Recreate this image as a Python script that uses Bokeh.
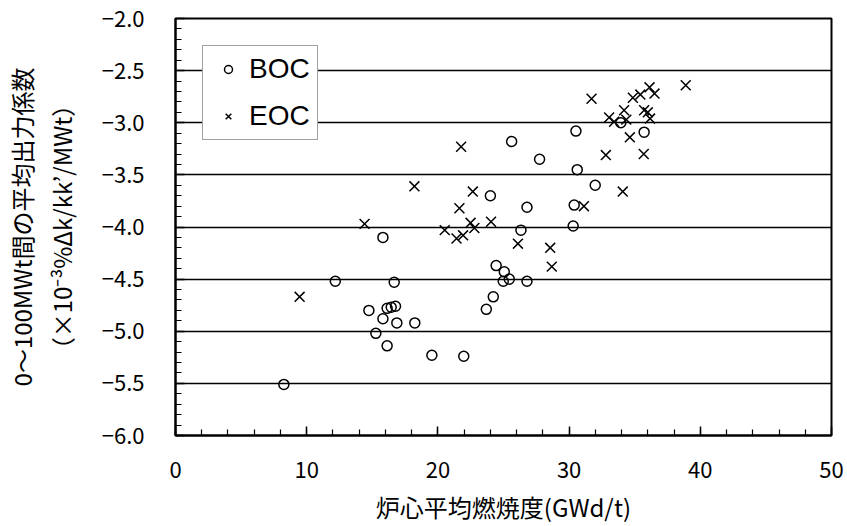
from bokeh.plotting import figure
from bokeh.models import Range1d, Legend, LegendItem, SingleIntervalTicker
from bokeh.embed import file_html
from bokeh.resources import INLINE

# ---- data ----
boc_x = [8.26, 12.18, 14.74, 15.27, 15.81, 15.81, 16.13, 16.13, 16.44, 16.77,
         16.67, 16.87, 18.24, 19.54, 21.97, 23.69, 24.22, 24.44, 25.06, 24.98,
         25.44, 26.79, 26.33, 26.79, 24.00, 25.62, 27.75, 30.31, 30.39, 30.52,
         30.62, 31.99, 33.94, 35.72]
boc_y = [-5.51, -4.52, -4.80, -5.02, -4.10, -4.88, -5.14, -4.78, -4.77, -4.76,
         -4.53, -4.92, -4.92, -5.23, -5.24, -4.79, -4.67, -4.37, -4.43, -4.52,
         -4.50, -4.52, -4.03, -3.81, -3.70, -3.18, -3.35, -3.99, -3.79, -3.08,
         -3.45, -3.60, -3.00, -3.09]

eoc_x = [9.46, 14.41, 18.21, 21.77, 21.64, 22.66, 20.52, 21.42, 21.92, 22.49,
         22.78, 24.05, 26.10, 28.56, 28.68, 31.13, 31.71, 32.80, 33.05, 33.43,
         34.09, 34.19, 34.36, 34.63, 34.86, 35.43, 35.69, 35.72, 36.00, 36.17,
         36.13, 36.51, 38.89]
eoc_y = [-4.67, -3.97, -3.61, -3.23, -3.82, -3.66, -4.03, -4.11, -4.08, -3.96,
         -4.01, -3.95, -4.16, -4.20, -4.38, -3.80, -2.77, -3.31, -2.95, -2.99,
         -3.66, -2.88, -2.97, -3.14, -2.76, -2.73, -3.30, -2.88, -2.90, -2.96,
         -2.66, -2.72, -2.64]

series_names = ["BOC", "EOC"]
y_ticks = [-6.0, -5.5, -5.0, -4.5, -4.0, -3.5, -3.0, -2.5, -2.0]
y_tick_labels = ["\u22126.0", "\u22125.5", "\u22125.0", "\u22124.5", "\u22124.0",
                 "\u22123.5", "\u22123.0", "\u22122.5", "\u22122.0"]
x_label = "炉心平均燃焼度(GWd/t)"
y_label_1 = "0～100MWt間の平均出力係数"
y_label_2 = "（×10⁻³%Δk/kk’/MWt）"

FONT = "Noto Sans CJK JP"

p = figure(width=847, height=526, x_range=Range1d(0, 50), y_range=Range1d(-6.0, -2.0),
           output_backend="svg", toolbar_location=None,
           min_border_left=174, min_border_right=16, min_border_top=18, min_border_bottom=91)
p.background_fill_color = "white"
p.border_fill_color = "white"
p.outline_line_color = "black"
p.outline_line_width = 2

r_boc = p.scatter(boc_x, boc_y, marker="circle", size=10, fill_color=None,
                  line_color="black", line_width=1.5)
r_eoc = p.scatter(eoc_x, eoc_y, marker="x", size=14, line_color="black", line_width=1.5)

# axes
p.xaxis.ticker = SingleIntervalTicker(interval=10, num_minor_ticks=5)
p.yaxis.ticker = SingleIntervalTicker(interval=0.5, num_minor_ticks=5)
p.yaxis.major_label_overrides = {t: s for t, s in zip(y_ticks, y_tick_labels)}

for ax in (p.xaxis[0], p.yaxis[0]):
    ax.axis_line_color = "black"
    ax.axis_line_width = 2
    ax.major_tick_line_color = "black"
    ax.minor_tick_line_color = "black"
    ax.major_tick_line_width = 1.5
    ax.minor_tick_line_width = 1.2
    ax.major_tick_in = 9
    ax.major_tick_out = 0
    ax.minor_tick_in = 6
    ax.minor_tick_out = 0
    ax.major_label_text_font = FONT
    ax.major_label_text_font_size = "22px"
    ax.major_label_text_color = "black"
    ax.axis_label_text_font = FONT
    ax.axis_label_text_font_style = "normal"
    ax.axis_label_text_color = "black"

p.xaxis.major_label_standoff = 26
p.yaxis.major_label_standoff = 31
p.xaxis.axis_label = x_label
p.xaxis.axis_label_text_font_size = "24px"
p.xaxis.axis_label_standoff = 8

# two-line y-axis title
p.yaxis.axis_label = y_label_1 + "\n" + y_label_2
p.yaxis.axis_label_text_font_size = "24px"
p.yaxis.axis_label_text_line_height = 1.15
p.yaxis.axis_label_standoff = 20

p.xgrid.visible = False
p.ygrid.grid_line_color = "black"
p.ygrid.grid_line_width = 1.3

legend = Legend(items=[LegendItem(label=series_names[0], renderers=[r_boc]),
                       LegendItem(label=series_names[1], renderers=[r_eoc])],
                location=(27, 295), margin=0, padding=7, spacing=15,
                glyph_width=36, glyph_height=20, label_height=30, label_standoff=3,
                label_text_font="Liberation Sans", label_text_font_size="28px",
                label_text_color="black",
                border_line_color="#444444", border_line_width=1.2,
                background_fill_color="white", background_fill_alpha=1.0)
p.add_layout(legend)

open("out.html", "w").write(file_html(p, INLINE))
